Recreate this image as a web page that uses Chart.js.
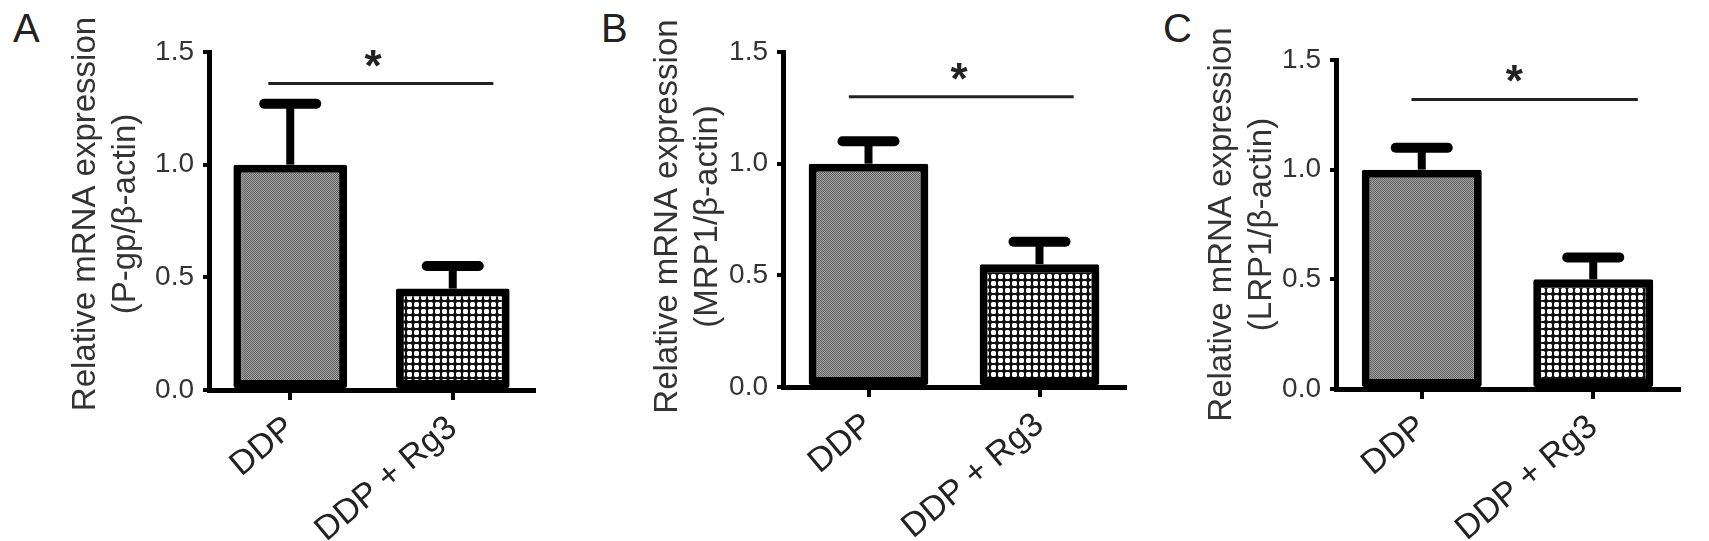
<!DOCTYPE html>
<html>
<head>
<meta charset="utf-8">
<script src="https://cdn.jsdelivr.net/npm/chart.js@4.4.1/dist/chart.umd.min.js"></script>
<style>
  body { margin:0; background:#fff; width:1709px; height:541px; overflow:hidden; position:relative;
         font-family:'Liberation Sans', Arial, sans-serif; }
  .panel { position:absolute; top:0; height:541px; }
  .letter { position:absolute; top:8px; font-size:40px; line-height:40px; color:#222; }
</style>
</head>
<body>
<div class="letter" style="left:13px">A</div>
<div class="letter" style="left:601px">B</div>
<div class="letter" style="left:1163px">C</div>
<div class="panel" style="left:0;width:570px"><canvas id="chartA"></canvas></div>
<div class="panel" style="left:570px;width:570px"><canvas id="chartB"></canvas></div>
<div class="panel" style="left:1140px;width:569px"><canvas id="chartC"></canvas></div>
<script>
// data
const categories = ['DDP', 'DDP + Rg3'];
const yTicks = [0, 0.5, 1.0, 1.5];

const pgpMean = [1.00, 0.45];
const pgpErr = [0.27, 0.10];
const mrp1Mean = [1.00, 0.55];
const mrp1Err = [0.10, 0.10];
const lrp1Mean = [1.00, 0.50];
const lrp1Err = [0.10, 0.10];

// height of the significance bracket in A, B, C
const sigLevel = [1.36, 1.30, 1.32];

const FONT = "'Liberation Sans', Arial, sans-serif";
Chart.defaults.font.family = FONT;

// fill patterns for the two groups
function makePattern(size, draw) {
  const c = document.createElement('canvas');
  c.width = size; c.height = size;
  const g = c.getContext('2d');
  draw(g);
  return g.createPattern(c, 'repeat');
}
const greyFill = makePattern(2, g => {
  g.fillStyle = '#a4a4a4'; g.fillRect(0, 0, 2, 2);
  g.fillStyle = '#5e5e5e'; g.fillRect(0, 0, 1, 1); g.fillRect(1, 1, 1, 1);
});
const dotFill = makePattern(7, g => {
  g.fillStyle = '#111'; g.fillRect(0, 0, 7, 7);
  g.fillStyle = '#fff'; g.fillRect(1, 1, 5, 5);
  g.fillStyle = '#777';
  g.fillRect(1, 1, 1, 1); g.fillRect(5, 1, 1, 1); g.fillRect(1, 5, 1, 1); g.fillRect(5, 5, 1, 1);
});

// error bars + bracket with star
const annotations = {
  id: 'annotations',
  afterDatasetsDraw(chart, args, opts) {
    const { ctx, scales: { x, y } } = chart;
    const meta = chart.getDatasetMeta(0);
    ctx.save();
    ctx.strokeStyle = '#000';
    meta.data.forEach((bar, i) => {
      const top = y.getPixelForValue(opts.mean[i] + opts.err[i]);
      ctx.lineCap = 'butt';
      ctx.lineWidth = 8;
      ctx.beginPath(); ctx.moveTo(bar.x, bar.y); ctx.lineTo(bar.x, top); ctx.stroke();
      ctx.lineCap = 'round';
      ctx.lineWidth = 10;
      ctx.beginPath(); ctx.moveTo(bar.x - 26, top); ctx.lineTo(bar.x + 26, top); ctx.stroke();
    });

    const ly = y.getPixelForValue(opts.sig);
    const x1 = x.getPixelForValue(opts.span[0]);
    const x2 = x.getPixelForValue(opts.span[1]);
    ctx.strokeStyle = '#222';
    ctx.lineCap = 'butt';
    ctx.lineWidth = 3;
    ctx.beginPath(); ctx.moveTo(x1, ly); ctx.lineTo(x2, ly); ctx.stroke();
    ctx.fillStyle = '#222';
    ctx.font = 'bold 44px ' + FONT;
    ctx.textAlign = 'center';
    ctx.textBaseline = 'alphabetic';
    ctx.fillText('*', x.getPixelForValue(opts.star), ly - 3);
    ctx.restore();
  }
};

// two-line rotated y title, centred a little above the plot middle
const yTitle = {
  id: 'yTitle',
  afterDraw(chart, args, opts) {
    const { ctx, chartArea } = chart;
    ctx.save();
    ctx.translate(opts.x, (chartArea.top + chartArea.bottom) / 2 + opts.dy);
    ctx.rotate(-Math.PI / 2);
    ctx.font = '33px ' + FONT;
    ctx.fillStyle = '#333';
    ctx.textAlign = 'center';
    ctx.textBaseline = 'middle';
    opts.lines.forEach((t, i) => ctx.fillText(t, 0, i * 40));
    ctx.restore();
  }
};

const panels = [
  { id: 'chartA', mean: pgpMean, err: pgpErr, sig: sigLevel[0], gene: 'P-gp',
    yW: 209, top: 52, right: 36, xH: 151, titleX: 86, titleDy: -7, span: [-0.135, 1.25], star: 0.51 },
  { id: 'chartB', mean: mrp1Mean, err: mrp1Err, sig: sigLevel[1], gene: 'MRP1',
    yW: 213, top: 52, right: 15, xH: 154, titleX: 98, titleDy: -3, span: [-0.115, 1.2], star: 0.53 },
  { id: 'chartC', mean: lrp1Mean, err: lrp1Err, sig: sigLevel[2], gene: 'LRP1',
    yW: 196, top: 60, right: 30, xH: 152, titleX: 82, titleDy: 0, span: [-0.06, 1.26], star: 0.54 }
];

panels.forEach(p => {
  new Chart(document.getElementById(p.id), {
    type: 'bar',
    data: {
      labels: categories,
      datasets: [{
        data: p.mean,
        backgroundColor: [greyFill, dotFill],
        borderColor: '#000',
        borderWidth: 8,
        borderSkipped: false,
        borderRadius: 2,
        barPercentage: 0.7,
        categoryPercentage: 1.0
      }]
    },
    options: {
      responsive: true,
      maintainAspectRatio: false,
      animation: false,
      layout: { padding: { left: 0, top: p.top, right: p.right, bottom: 0 } },
      plugins: {
        legend: { display: false },
        tooltip: { enabled: false },
        annotations: { mean: p.mean, err: p.err, sig: p.sig, span: p.span, star: p.star },
        yTitle: { lines: ['Relative mRNA expression', '(' + p.gene + '/β-actin)'], x: p.titleX, dy: p.titleDy }
      },
      scales: {
        x: {
          afterFit: s => { s.height = p.xH; },
          grid: { offset: false, drawOnChartArea: false, tickLength: 10, lineWidth: 4, color: '#000' },
          border: { width: 5, color: '#000' },
          ticks: { minRotation: 40, maxRotation: 40, autoSkip: false, padding: 8,
                   color: '#222', font: { size: 34 } }
        },
        y: {
          min: 0, max: 1.5,
          afterFit: s => { s.width = p.yW; },
          afterBuildTicks: s => { s.ticks = yTicks.map(v => ({ value: v })); },
          grid: { drawOnChartArea: false, tickLength: 6, lineWidth: 4, color: '#000' },
          border: { width: 5, color: '#000' },
          ticks: { padding: 9, color: '#333', font: { size: 28 }, callback: v => v.toFixed(1) }
        }
      }
    },
    plugins: [annotations, yTitle]
  });
});
</script>
</body>
</html>
